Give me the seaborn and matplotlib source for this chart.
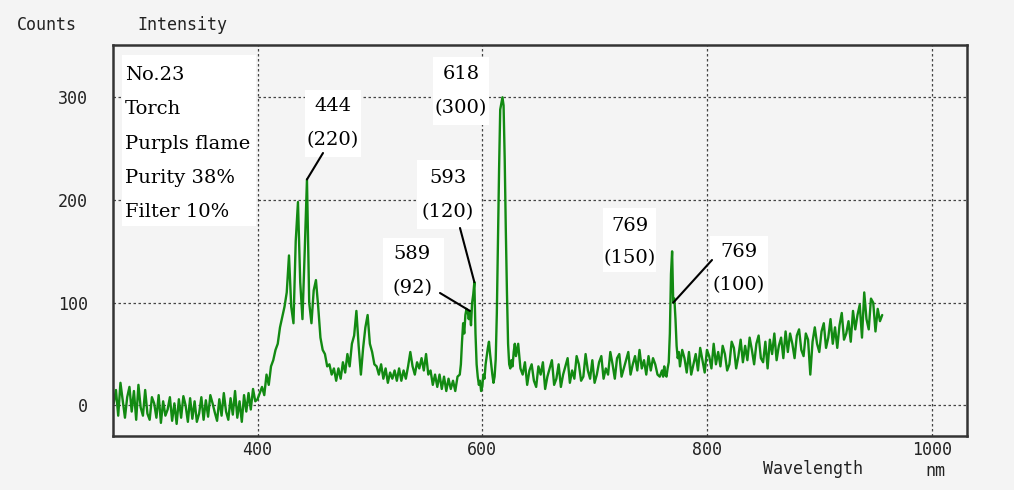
import numpy as np
import pandas as pd
import matplotlib
matplotlib.use("Agg")
import matplotlib.pyplot as plt
from matplotlib.patches import Rectangle
import seaborn as sns

# ---- spectrum data (wavelength segments and counts) ----
# 272-398 nm, 2 nm step
seg_a_start, seg_a_step = 272, 2
seg_a = [2, 15, -10, 22,
         5, -12, 8, 18, -6, 14, -14, 20, -2, -10, 15,
         -8, -14, 8, 2, -12, 10, -17, 4, -10, -4, 8, -15, 2, -18, 6, -12, 9, 0, -16, 7,
         -13, 4, -16, -8, 8, -14, 5, -11, 10, 2, -7, -15, 6, -10, 12, -6, -14, 7, -9,
         14, -12, 4, -16, 10, -6, 12, -4, 16, 4]
# 400-578 nm, 2 nm step
seg_b_start, seg_b_step = 400, 2
seg_b = [6, 12, 18, 10, 30, 20, 38, 44, 54, 60,
         76, 86, 96, 110, 146, 96, 80, 160, 198, 120,
         84, 150, 220, 100, 80, 112, 122, 96, 66, 54,
         50, 38, 40, 30, 36, 24, 36, 26, 42, 32,
         50, 38, 60, 68, 92, 58, 30, 56, 76, 88,
         60, 52, 40, 38, 30, 40, 26, 36, 22, 32,
         26, 34, 24, 36, 24, 34, 26, 38, 52, 38,
         30, 42, 36, 46, 34, 50, 30, 34, 20, 30,
         18, 30, 16, 28, 14, 26, 16, 24, 14, 28]
# 580-629 nm, 1 nm step
seg_c_start, seg_c_step = 580, 1
seg_c = [30, 40, 62, 80, 70, 88, 94, 92, 84, 92,
         78, 100, 108, 120, 70, 40, 28, 20, 24, 14,
         18, 30, 26, 40, 48, 56, 62, 50, 40, 30,
         22, 28, 45, 90, 160, 230, 288, 294, 300, 292,
         240, 170, 110, 60, 40, 36, 44, 38, 52, 60]
# 630-758 nm, 2 nm step
seg_d_start, seg_d_step = 630, 2
seg_d = [48, 60, 36, 30, 42, 20, 34, 40, 24, 18,
         38, 30, 42, 16, 28, 36, 44, 20, 26, 40,
         18, 30, 38, 46, 22, 34, 26, 48, 40, 24,
         28, 50, 34, 26, 44, 22, 30, 42, 48, 26,
         36, 30, 52, 40, 26, 46, 50, 28, 36, 44,
         52, 30, 40, 48, 34, 54, 36, 44, 30, 48,
         34, 46, 40, 30, 28]
# 760-775 nm, 1 nm step
seg_e_start, seg_e_step = 760, 1
seg_e = [34, 28, 38, 30, 28, 36, 42, 70, 128, 150,
         100, 104, 84, 58, 46, 52]
# 776-956 nm, 2 nm step
seg_f_start, seg_f_step = 776, 2
seg_f = [38, 54, 46, 32, 52, 30, 40, 50, 34, 56,
         44, 32, 54, 48, 36, 60, 40, 52, 38, 58,
         50, 34, 40, 62, 56, 36, 48, 64, 42, 58,
         44, 66, 54, 40, 60, 68, 46, 42, 62, 36,
         64, 50, 70, 44, 58, 66, 46, 72, 52, 70,
         60, 46, 68, 74, 54, 48, 70, 64, 30, 62,
         76, 60, 52, 72, 80, 56, 66, 84, 60, 76,
         56, 78, 90, 64, 70, 82, 62, 92, 74, 88,
         98, 66, 110, 84, 74, 104, 100, 72, 94, 82, 88]

segments = [(seg_a_start, seg_a_step, seg_a), (seg_b_start, seg_b_step, seg_b),
            (seg_c_start, seg_c_step, seg_c), (seg_d_start, seg_d_step, seg_d),
            (seg_e_start, seg_e_step, seg_e), (seg_f_start, seg_f_step, seg_f)]
wavelength = np.concatenate([start + step * np.arange(len(v)) for start, step, v in segments])
counts = np.concatenate([np.asarray(v, dtype=float) for _, _, v in segments])
df = pd.DataFrame({"wavelength": wavelength, "counts": counts})

x_ticks = [400, 600, 800, 1000]
y_ticks = [0, 100, 200, 300]
info_lines = ["No.23", "Torch", "Purpls flame", "Purity 38%", "Filter 10%"]

# ---- figure ----
W, H = 1014, 490
sns.set_style("white")
plt.rcParams["font.family"] = ["DejaVu Sans Mono", "DejaVu Sans"]
bg = "#f4f4f4"
fig = plt.figure(figsize=(W / 100, H / 100), dpi=100, facecolor=bg)
ax = fig.add_axes([112.7 / W, 1 - 435.7 / H, (966.7 - 112.7) / W, (435.7 - 45) / H])
ax.set_facecolor(bg)

sns.lineplot(data=df, x="wavelength", y="counts", ax=ax, color="#128a12",
             linewidth=1.7, estimator=None, sort=False, zorder=2)

ax.set_xlim(271.1, 1031.2)
ax.set_ylim(-29.5, 350.9)
ax.set_xticks(x_ticks)
ax.set_yticks(y_ticks)
ax.set_xlabel("")
ax.set_ylabel("")
ax.grid(True, color="#444444", linestyle=(0, (2, 2)), linewidth=0.9)
ax.set_axisbelow(True)
for s in ax.spines.values():
    s.set_color("#333333")
    s.set_linewidth(1.8)
ax.tick_params(axis="both", length=0, labelsize=12, colors="#222222")
ax.tick_params(axis="y", pad=18)
ax.tick_params(axis="x", pad=4)


def fx(x):
    return x / W


def fy(y):
    return 1 - y / H


def white_box(x0, y0, x1, y1):
    ax.add_patch(Rectangle((fx(x0), fy(y1)), (x1 - x0) / W, (y1 - y0) / H,
                           transform=fig.transFigure, facecolor="white",
                           edgecolor="none", zorder=3, clip_on=False))


def serif_text(x, y, s, ha="center"):
    ax.text(fx(x), fy(y), s, transform=fig.transFigure, ha=ha, va="center",
            fontsize=14, family="DejaVu Serif", color="black", zorder=4)


def pointer(x0, y0, wl, val):
    ax.annotate("", xy=(wl, val), xycoords="data", xytext=(x0, H - y0),
                textcoords="figure pixels",
                arrowprops=dict(arrowstyle="-", color="black", lw=1.5,
                                shrinkA=0, shrinkB=0), zorder=5)


def peak_label(wl, cx, cy, gap=34):
    val = int(df.loc[df["wavelength"] == wl, "counts"].iloc[0])
    serif_text(cx, cy, f"{wl}")
    serif_text(cx, cy + gap, f"({val})")
    return val


# info block
white_box(122, 55, 256, 226)
for i, line in enumerate(info_lines):
    serif_text(125, 75 + i * 34.25, line, ha="left")

# peak labels
white_box(305, 90, 361, 157)
v444 = peak_label(444, 333, 106)
pointer(323, 153, 444, v444)

white_box(433, 57, 489, 125)
peak_label(618, 461, 74)

white_box(417, 160, 481, 229)
v593 = peak_label(593, 448, 178)
pointer(460, 228, 593, v593)

white_box(383, 238, 444, 302)
v589 = peak_label(589, 412, 254, gap=34)
pointer(440, 293, 589, v589)

white_box(603, 208, 656, 272)
peak_label(769, 630, 226, gap=32)

white_box(710, 236, 768, 302)
val100 = int(df.loc[df["wavelength"] == 770, "counts"].iloc[0])
serif_text(739, 252, "769")
serif_text(739, 285, f"({val100})")
pointer(712, 260, 770, val100)

# axis captions
fig.text(fx(17), fy(25), "Counts", ha="left", va="center", fontsize=12, color="#222222")
fig.text(fx(137), fy(25), "Intensity", ha="left", va="center", fontsize=12, color="#222222")
fig.text(fx(813), fy(469), "Wavelength", ha="center", va="center", fontsize=12, color="#222222")
fig.text(fx(935), fy(471), "nm", ha="center", va="center", fontsize=12, color="#222222")

fig.savefig("out.png", dpi=100, facecolor=bg)
